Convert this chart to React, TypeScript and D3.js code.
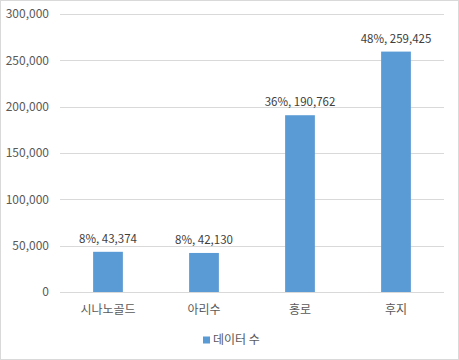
import React, { useRef, useEffect } from 'react';
import * as d3 from 'd3';

const categories = ['시나노골드', '아리수', '홍로', '후지'];
const counts = [43374, 42130, 190762, 259425];
const shares = ['8%', '8%', '36%', '48%'];
const yTicks = [0, 50000, 100000, 150000, 200000, 250000, 300000];
const seriesName = '데이터 수';

const width = 459;
const height = 360;
const FONT = '"Noto Sans CJK KR", "Noto Sans", sans-serif';

const App: React.FC = () => {
  const svgRef = useRef<SVGSVGElement>(null);

  useEffect(() => {
    document.body.style.margin = '0';
    if (!svgRef.current) return;
    const svg = d3.select(svgRef.current);
    svg.selectAll('*').remove();

    const margin = { top: 14, right: 15, bottom: 68, left: 60 };
    const innerWidth = width - margin.left - margin.right;
    const innerHeight = height - margin.top - margin.bottom;

    // chart area border
    svg.append('rect')
      .attr('x', 0.5).attr('y', 0.5)
      .attr('width', width - 1).attr('height', height - 1)
      .attr('fill', 'white')
      .attr('stroke', '#d9d9d9');

    const g = svg.append('g')
      .attr('transform', `translate(${margin.left}, ${margin.top})`);

    const xScale = d3.scaleBand<string>()
      .domain(categories)
      .range([0, innerWidth])
      .paddingInner(0.69)
      .paddingOuter(0.345);

    const yScale = d3.scaleLinear()
      .domain([0, 300000])
      .range([innerHeight, 0]);

    // gridlines
    g.selectAll('.grid')
      .data(yTicks)
      .enter()
      .append('line')
      .attr('x1', 0).attr('x2', innerWidth)
      .attr('y1', d => Math.round(yScale(d)) + 0.5)
      .attr('y2', d => Math.round(yScale(d)) + 0.5)
      .attr('stroke', '#d9d9d9');

    // y labels
    g.selectAll('.ylab')
      .data(yTicks)
      .enter()
      .append('text')
      .attr('x', -11)
      .attr('y', d => yScale(d))
      .attr('dy', '0.35em')
      .attr('text-anchor', 'end')
      .attr('font-size', '12px')
      .attr('font-family', FONT)
      .attr('fill', '#595959')
      .text(d => d3.format(',')(d));

    // bars
    g.selectAll('.bar')
      .data(counts)
      .enter()
      .append('rect')
      .attr('x', (_, i) => xScale(categories[i])!)
      .attr('y', d => yScale(d))
      .attr('width', xScale.bandwidth())
      .attr('height', d => innerHeight - yScale(d))
      .attr('fill', '#5b9bd5');

    // data labels
    g.selectAll('.dlab')
      .data(counts)
      .enter()
      .append('text')
      .attr('x', (_, i) => xScale(categories[i])! + xScale.bandwidth() / 2)
      .attr('y', d => yScale(d) - 9)
      .attr('text-anchor', 'middle')
      .attr('font-size', '11.5px')
      .attr('font-family', FONT)
      .attr('fill', '#404040')
      .text((d, i) => `${shares[i]}, ${d3.format(',')(d)}`);

    // category labels
    g.selectAll('.xlab')
      .data(categories)
      .enter()
      .append('text')
      .attr('x', d => xScale(d)! + xScale.bandwidth() / 2)
      .attr('y', innerHeight + 18)
      .attr('dy', '0.35em')
      .attr('text-anchor', 'middle')
      .attr('font-size', '12px')
      .attr('font-family', FONT)
      .attr('fill', '#595959')
      .text(d => d);

    // legend
    const legend = svg.append('g').attr('transform', `translate(203, 340)`);
    legend.append('rect')
      .attr('x', 0).attr('y', -3.5)
      .attr('width', 7).attr('height', 7)
      .attr('fill', '#5b9bd5');
    legend.append('text')
      .attr('x', 10)
      .attr('y', 0)
      .attr('dy', '0.35em')
      .attr('font-size', '12px')
      .attr('font-family', FONT)
      .attr('fill', '#595959')
      .text(seriesName);
  }, []);

  return <svg ref={svgRef} width={width} height={height} style={{ display: 'block' }} />;
};

export default App;
